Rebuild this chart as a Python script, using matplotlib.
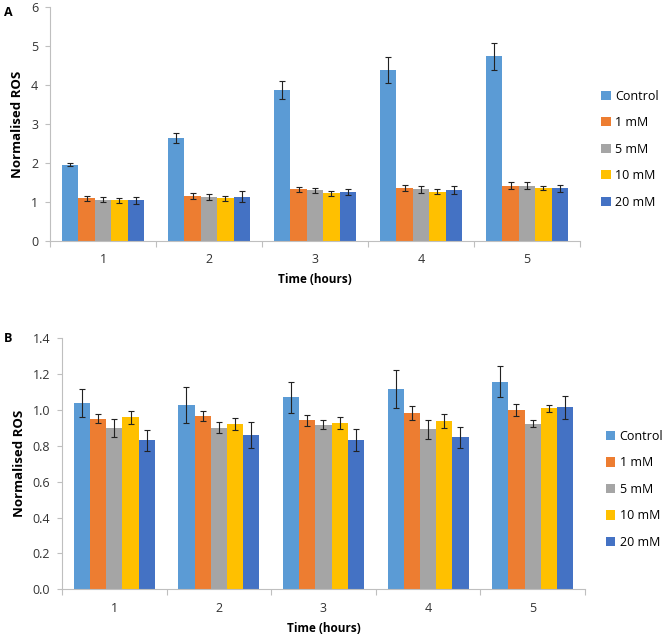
import matplotlib
matplotlib.use("Agg")
import matplotlib.pyplot as plt
import numpy as np

plt.rcParams['font.family'] = ['Open Sans', 'DejaVu Sans']

hours = ["1", "2", "3", "4", "5"]
series = ["Control", "1 mM", "5 mM", "10 mM", "20 mM"]
colors = ["#5B9BD5", "#ED7D31", "#A5A5A5", "#FFC000", "#4472C4"]

# Panel A
a_control = [1.96, 2.64, 3.87, 4.38, 4.73]
a_1mM = [1.09, 1.15, 1.32, 1.36, 1.42]
a_5mM = [1.06, 1.13, 1.30, 1.32, 1.41]
a_10mM = [1.04, 1.09, 1.22, 1.26, 1.36]
a_20mM = [1.05, 1.14, 1.25, 1.30, 1.35]
a_err_control = [0.05, 0.13, 0.23, 0.34, 0.34]
a_err_1mM = [0.06, 0.07, 0.07, 0.08, 0.08]
a_err_5mM = [0.06, 0.07, 0.07, 0.08, 0.09]
a_err_10mM = [0.06, 0.07, 0.06, 0.06, 0.06]
a_err_20mM = [0.09, 0.13, 0.08, 0.10, 0.09]

# Panel B
b_control = [1.039, 1.026, 1.071, 1.117, 1.158]
b_1mM = [0.951, 0.966, 0.942, 0.983, 1.000]
b_5mM = [0.901, 0.901, 0.918, 0.892, 0.924]
b_10mM = [0.959, 0.922, 0.929, 0.940, 1.009]
b_20mM = [0.831, 0.862, 0.833, 0.848, 1.015]
b_err_control = [0.080, 0.100, 0.087, 0.104, 0.085]
b_err_1mM = [0.025, 0.027, 0.029, 0.037, 0.033]
b_err_5mM = [0.049, 0.031, 0.025, 0.053, 0.018]
b_err_10mM = [0.036, 0.035, 0.033, 0.038, 0.019]
b_err_20mM = [0.059, 0.071, 0.059, 0.059, 0.066]

a_vals = [a_control, a_1mM, a_5mM, a_10mM, a_20mM]
a_errs = [a_err_control, a_err_1mM, a_err_5mM, a_err_10mM, a_err_20mM]
b_vals = [b_control, b_1mM, b_5mM, b_10mM, b_20mM]
b_errs = [b_err_control, b_err_1mM, b_err_5mM, b_err_10mM, b_err_20mM]

fig = plt.figure(figsize=(6.63, 6.38), dpi=100)
axA = fig.add_axes([0.0754, 0.6223, 0.7994, 0.3668])
axB = fig.add_axes([0.0935, 0.0763, 0.7888, 0.3934])

axis_col = "#BFBFBF"
fs = 9

def draw(ax, vals, errs, ylim, yticks, yfmt, leg_y):
    x = np.arange(1, len(hours) + 1)
    w = 0.155
    for i, (v, e) in enumerate(zip(vals, errs)):
        ax.bar(x + (i - 2) * w, v, width=w, color=colors[i], label=series[i],
               yerr=e, error_kw=dict(ecolor="#222222", elinewidth=0.8,
                                     capsize=2.5, capthick=0.8), zorder=2)
    ax.set_xlim(0.5, len(hours) + 0.5)
    ax.set_ylim(*ylim)
    ax.set_yticks(yticks)
    ax.set_yticklabels([yfmt.format(t) for t in yticks], fontsize=fs, color="#333333")
    ax.set_xticks(x)
    ax.set_xticklabels(hours, fontsize=fs, color="#333333")
    ax.set_xticks(np.arange(0.5, len(hours) + 1), minor=True)
    ax.tick_params(axis='x', which='major', length=0, pad=9)
    ax.tick_params(axis='x', which='minor', length=4, color=axis_col, width=0.8)
    ax.tick_params(axis='y', length=3.5, color=axis_col, width=0.8, pad=5)
    for s in ["top", "right"]:
        ax.spines[s].set_visible(False)
    for s in ["left", "bottom"]:
        ax.spines[s].set_color(axis_col)
        ax.spines[s].set_linewidth(0.8)
    ax.set_ylabel("Normalised ROS", fontsize=9.5, fontweight="bold", labelpad=5)
    ax.set_xlabel("Time (hours)", fontsize=8.5, fontweight="bold", labelpad=5)
    ax.legend(loc="center left", bbox_to_anchor=(1.04, leg_y), frameon=False,
              fontsize=fs, handlelength=0.75, handleheight=0.75,
              handletextpad=0.35, labelspacing=1.08, borderpad=0,
              borderaxespad=0)

draw(axA, a_vals, a_errs, (0, 6), [0, 1, 2, 3, 4, 5, 6], "{:.0f}", 0.393)
draw(axB, b_vals, b_errs, (0, 1.4), [0, 0.2, 0.4, 0.6, 0.8, 1.0, 1.2, 1.4], "{:.1f}", 0.398)

fig.text(0.006, 0.99, "A", fontsize=9, fontweight="bold", va="top")
fig.text(0.006, 0.479, "B", fontsize=9, fontweight="bold", va="top")

fig.savefig("out.png", dpi=100)
